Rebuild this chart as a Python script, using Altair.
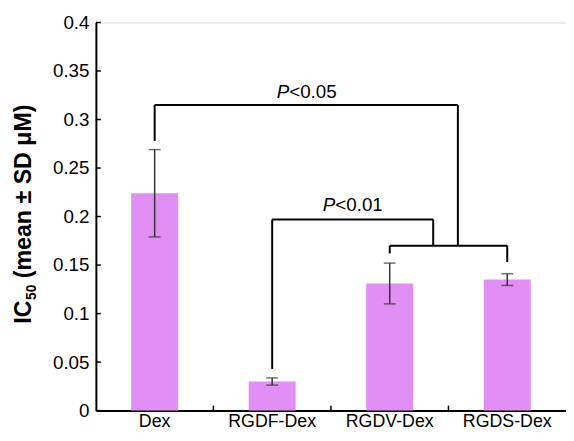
import altair as alt
import pandas as pd

# ---- data ----
categories = ["Dex", "RGDF-Dex", "RGDV-Dex", "RGDS-Dex"]
means = [0.224, 0.030, 0.131, 0.135]
sds = [0.045, 0.0037, 0.021, 0.006]
y_ticks = [0, 0.05, 0.1, 0.15, 0.2, 0.25, 0.3, 0.35, 0.4]

# significance brackets (x in category units, 0..4 across the plot; y in data units)
seg_x1 = [0.5, 0.5, 3.08, 1.5, 1.5, 2.87, 2.5, 2.5, 3.5]
seg_x2 = [0.5, 3.08, 3.08, 1.5, 2.87, 2.87, 3.5, 2.5, 3.5]
seg_y1 = [0.278, 0.315, 0.315, 0.043, 0.197, 0.197, 0.170, 0.170, 0.170]
seg_y2 = [0.315, 0.315, 0.170, 0.197, 0.197, 0.170, 0.170, 0.162, 0.153]

p_text = ["<0.05", "<0.01"]
p_x = [1.645, 2.037]
p_y = [0.3224, 0.206]

band_ticks = [1, 2, 3]

title_main = "IC"
title_sub = "50"
title_rest = "(mean ± SD μM)"

FONT = "Liberation Sans"
W, H = 476, 393

df = pd.DataFrame({"cat": categories, "mean": means, "sd": sds})
df["lo"] = df["mean"] - df["sd"]
df["hi"] = df["mean"] + df["sd"]

seg = pd.DataFrame({"x1": seg_x1, "x2": seg_x2, "y1": seg_y1, "y2": seg_y2})
ptxt = pd.DataFrame({"t": p_text, "x": p_x, "y": p_y})
yt = pd.DataFrame({"v": y_ticks})
bt = pd.DataFrame({"u": band_ticks})
ttl = pd.DataFrame({"a": [title_main], "b": [title_sub], "c": [title_rest]})

yscale = alt.Scale(domain=[0, 0.4], nice=False, zero=True)
xband = alt.Scale(domain=categories, paddingInner=0, paddingOuter=0)
xq = alt.Scale(domain=[0, 4], nice=False, zero=False)

base = alt.Chart(df)

bars = base.mark_bar(color="#E18FF4", width=alt.RelativeBandSize(0.4)).encode(
    x=alt.X("cat:N", scale=xband, sort=categories,
            axis=alt.Axis(title=None, labelAngle=0, ticks=False, domainWidth=2,
                          domainColor="black", labelFont=FONT, labelFontSize=18,
                          labelColor="black", labelPadding=2)),
    y=alt.Y("mean:Q", scale=yscale,
            axis=alt.Axis(values=y_ticks, format="~g", ticks=False, domainWidth=2,
                          domainColor="black", grid=False, labelFont=FONT,
                          labelFontSize=19, labelColor="black", labelPadding=7,
                          labelFlush=False, title=None)),
)

err = base.mark_rule(color="#333333", strokeWidth=1.5).encode(
    x=alt.X("cat:N", scale=xband, sort=categories),
    y=alt.Y("lo:Q", scale=yscale),
    y2="hi:Q",
)
cap_lo = base.mark_tick(color="#333333", thickness=1.5, size=12).encode(
    x=alt.X("cat:N", scale=xband, sort=categories),
    y=alt.Y("lo:Q", scale=yscale),
)
cap_hi = base.mark_tick(color="#333333", thickness=1.5, size=12).encode(
    x=alt.X("cat:N", scale=xband, sort=categories),
    y=alt.Y("hi:Q", scale=yscale),
)

cat_layer = alt.layer(bars, err, cap_lo, cap_hi)

brackets = alt.Chart(seg).mark_rule(color="black", strokeWidth=2).encode(
    x=alt.X("x1:Q", scale=xq, axis=None),
    x2="x2:Q",
    y=alt.Y("y1:Q", scale=yscale),
    y2="y2:Q",
)
p_italic = alt.Chart(ptxt).mark_text(
    text="P", font=FONT, fontSize=19, fontStyle="italic", align="right",
    baseline="alphabetic", color="black"
).encode(x=alt.X("x:Q", scale=xq, axis=None), y=alt.Y("y:Q", scale=yscale))
p_rest = alt.Chart(ptxt).mark_text(
    font=FONT, fontSize=19, align="left", baseline="alphabetic", color="black"
).encode(x=alt.X("x:Q", scale=xq, axis=None), y=alt.Y("y:Q", scale=yscale),
         text="t:N")

ytick_marks = alt.Chart(yt).mark_rule(color="black", strokeWidth=1.5).encode(
    y=alt.Y("v:Q", scale=yscale), x=alt.value(0), x2=alt.value(5)
)
xtick_marks = alt.Chart(bt).mark_rule(color="black", strokeWidth=1.5).encode(
    x=alt.X("u:Q", scale=xq, axis=None), y=alt.value(H - 5), y2=alt.value(H)
)

# rotated y-axis title with a real subscript
TB = -66   # baseline of the rotated title (px from plot left)
TY = 305   # start of the title (px from plot top)
t_main = alt.Chart(ttl).mark_text(
    font=FONT, fontSize=23.5, fontWeight="bold", angle=270, align="left",
    baseline="alphabetic", color="black"
).encode(text="a:N", x=alt.value(TB), y=alt.value(TY))
t_sub = alt.Chart(ttl).mark_text(
    font=FONT, fontSize=14, fontWeight="bold", angle=270, align="left",
    baseline="alphabetic", color="black"
).encode(text="b:N", x=alt.value(TB + 5), y=alt.value(TY - 24))
t_rest = alt.Chart(ttl).mark_text(
    font=FONT, fontSize=23.5, fontWeight="bold", angle=270, align="left",
    baseline="alphabetic", color="black"
).encode(text="c:N", x=alt.value(TB), y=alt.value(TY - 46))

q_layer = alt.layer(brackets, p_italic, p_rest, ytick_marks, xtick_marks,
                    t_main, t_sub, t_rest)

chart = alt.layer(cat_layer, q_layer).resolve_scale(x="independent").properties(
    width=W, height=H,
    autosize=alt.AutoSizeParams(type="none"),
    padding={"left": 89, "top": 12, "right": 0, "bottom": 20},
).configure_view(stroke=None).configure(background="white")

chart.save("out.html", embed_options={"renderer": "svg", "actions": False})
